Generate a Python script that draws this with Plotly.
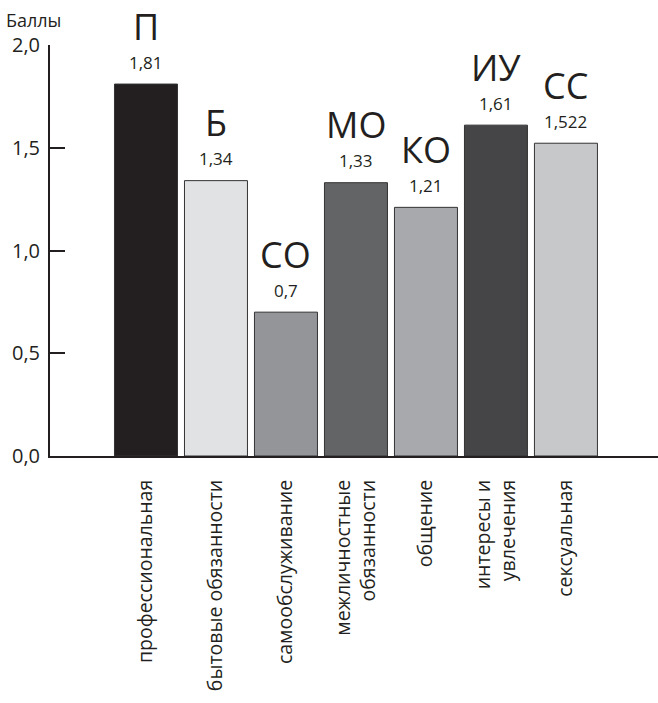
import plotly.graph_objects as go

categories = ["профессиональная", "бытовые обязанности", "самообслуживание",
              "межличностные<br>обязанности", "общение", "интересы и<br>увлечения", "сексуальная"]
abbrevs = ["П", "Б", "СО", "МО", "КО", "ИУ", "СС"]
values = [1.81, 1.34, 0.7, 1.33, 1.21, 1.61, 1.522]
value_labels = ["1,81", "1,34", "0,7", "1,33", "1,21", "1,61", "1,522"]
colors = ["#231f20", "#e1e2e3", "#939598", "#636466", "#a7a9ac", "#454547", "#c7c8ca"]
y_ticks = [0, 0.5, 1.0, 1.5, 2.0]
y_ticktext = ["0,0", "0,5", "1,0", "1,5", "2,0"]

FONT = "Open Sans"
INK = "#231f20"

x_idx = list(range(len(categories)))

fig = go.Figure()
fig.add_trace(go.Bar(
    x=x_idx, y=values, width=0.9,
    marker=dict(color=colors, line=dict(color="#333333", width=1)),
    hoverinfo="skip",
))

for i, (v, lab, ab) in enumerate(zip(values, value_labels, abbrevs)):
    fig.add_annotation(x=i, y=v, text=lab, showarrow=False, yanchor="middle",
                       yshift=22, font=dict(family=FONT, size=17, color=INK))
    fig.add_annotation(x=i, y=v, text=ab, showarrow=False, yanchor="middle",
                       yshift=58, font=dict(family=FONT, size=36, color=INK))

fig.add_annotation(xref="paper", yref="paper", x=-0.075, y=1.06, xanchor="left",
                   yanchor="middle", text="Баллы", showarrow=False,
                   font=dict(family=FONT, size=18, color=INK))

fig.update_layout(
    width=658, height=703,
    margin=dict(l=50, r=0, t=45, b=247),
    plot_bgcolor="white", paper_bgcolor="white",
    showlegend=False,
    font=dict(family=FONT, color=INK),
    xaxis=dict(
        range=[-1.371, 7.315], tickmode="array", tickvals=x_idx, ticktext=categories,
        tickangle=-90, showgrid=False, zeroline=False, showline=True, automargin=False,
        linecolor=INK, linewidth=2, ticks="", tickfont=dict(size=19.5, family=FONT, color=INK),
        ticklabelstandoff=14,
    ),
    yaxis=dict(
        range=[0, 2.0], tickmode="array", tickvals=y_ticks, ticktext=y_ticktext,
        showgrid=False, zeroline=False, showline=True, linecolor=INK, linewidth=2,
        automargin=False,
        ticks="inside", ticklen=15, tickwidth=2, tickcolor=INK,
        tickfont=dict(size=20, family=FONT, color=INK), ticklabelstandoff=4,
    ),
)

fig.write_html("out.html", config={"displayModeBar": False},
               post_script="document.body.style.margin='0';document.body.style.overflow='hidden';")
